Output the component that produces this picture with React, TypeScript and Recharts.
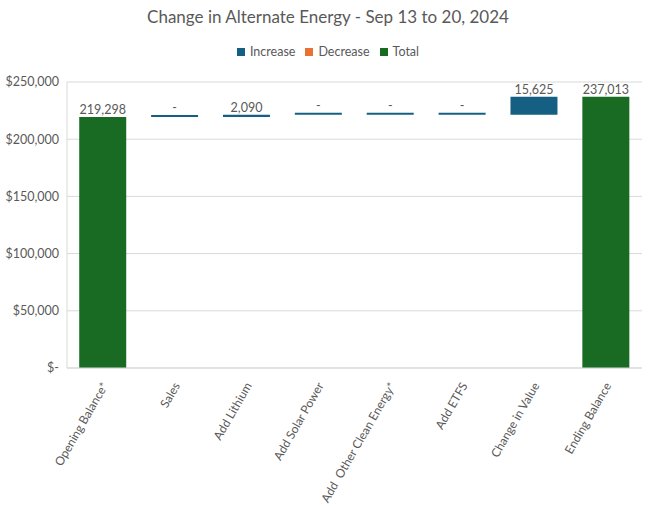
import { BarChart, Bar, XAxis, YAxis, CartesianGrid, Cell, LabelList } from 'recharts'

const categories = [
  'Opening Balance*',
  'Sales',
  'Add Lithium',
  'Add Solar Power',
  'Add  Other Clean Energy*',
  'Add ETFS',
  'Change in Value',
  'Ending Balance',
]
// positive = increase, negative = decrease; totals are flagged separately
const changes = [219298, 0, 2090, 0, 0, 0, 15625, 237013]
const isTotal = [true, false, false, false, false, false, false, true]
const yTicks = [0, 50000, 100000, 150000, 200000, 250000]

const COLORS = { increase: '#156082', decrease: '#E97132', total: '#196B24' }
const TEXT = '#595959'
const FONT = 'Lato, "Open Sans", sans-serif'

// build floating ranges for the waterfall
let running = 0
const data = categories.map((name, i) => {
  const v = changes[i]
  let range: [number, number]
  let kind: 'increase' | 'decrease' | 'total'
  if (isTotal[i]) {
    range = [0, v]
    running = v
    kind = 'total'
  } else {
    range = [running, running + v]
    running += v
    kind = v < 0 ? 'decrease' : 'increase'
  }
  return { name, range, kind, label: v === 0 ? '-' : Math.abs(v).toLocaleString('en-US') }
})

const money = (v: number) => (v === 0 ? '$-' : '$' + v.toLocaleString('en-US'))

const AngledTick = ({ x, y, payload }: { x?: number; y?: number; payload?: { value: string } }) => (
  <text
    x={(x ?? 0) + 3}
    y={(y ?? 0) + 8}
    transform={`rotate(-60, ${(x ?? 0) + 3}, ${(y ?? 0) + 8})`}
    textAnchor="end"
    dominantBaseline="middle"
    fill={TEXT}
    fontSize={12}
    fontFamily={FONT}
    style={{ whiteSpace: 'pre' }}
  >
    {payload?.value}
  </text>
)

const legendItems = [
  { label: 'Increase', color: COLORS.increase },
  { label: 'Decrease', color: COLORS.decrease },
  { label: 'Total', color: COLORS.total },
]

export default function App() {
  return (
    <div style={{ position: 'absolute', left: 0, top: 0, width: 656, height: 508, background: '#fff', fontFamily: FONT }}>
      <div style={{ position: 'absolute', top: 6, width: '100%', textAlign: 'center', fontSize: 17, color: TEXT }}>
        Change in Alternate Energy - Sep 13 to 20, 2024
      </div>
      <div style={{ position: 'absolute', top: 44, width: '100%', display: 'flex', justifyContent: 'center', gap: 10, fontSize: 12.5, color: TEXT }}>
        {legendItems.map(item => (
          <div key={item.label} style={{ display: 'flex', alignItems: 'center', gap: 5 }}>
            <div style={{ width: 8, height: 8, background: item.color }} />
            <span>{item.label}</span>
          </div>
        ))}
      </div>
      <BarChart
        width={656}
        height={508}
        data={data}
        margin={{ top: 82, right: 14, bottom: 0, left: 0 }}
        barCategoryGap="17%"
        style={{ position: 'absolute', left: 0, top: 0 }}
      >
        <CartesianGrid vertical={false} stroke="#d9d9d9" />
        <XAxis
          dataKey="name"
          interval={0}
          height={140}
          tickLine={false}
          axisLine={{ stroke: '#d9d9d9' }}
          tick={<AngledTick />}
        />
        <YAxis
          width={67}
          domain={[0, 250000]}
          ticks={yTicks}
          tickFormatter={money}
          tickLine={false}
          axisLine={{ stroke: '#d9d9d9' }}
          tick={{ fill: TEXT, fontSize: 12.5, fontFamily: FONT }}
        />
        <Bar dataKey="range" isAnimationActive={false} minPointSize={2}>
          {data.map((d, i) => (
            <Cell key={i} fill={COLORS[d.kind]} />
          ))}
          <LabelList dataKey="label" position="top" offset={3} fill={TEXT} fontSize={12.5} fontFamily={FONT} />
        </Bar>
      </BarChart>
    </div>
  )
}
